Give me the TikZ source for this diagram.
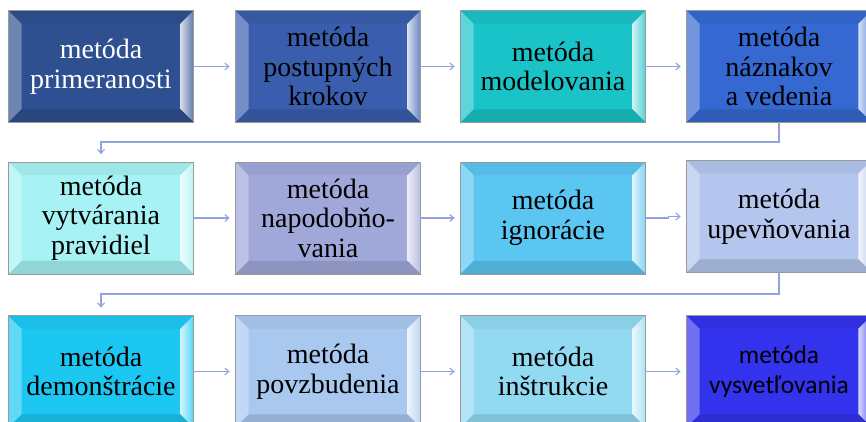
\documentclass[tikz,border=0pt]{standalone}
\usepackage{fontspec}
\setmainfont{Liberation Serif}
\newfontfamily\carlito{Carlito}
\usetikzlibrary{arrows.meta}
\definecolor{cA}{HTML}{2E5090}
\definecolor{cB}{HTML}{3A5EAD}
\definecolor{cC}{HTML}{19C3C8}
\definecolor{cD}{HTML}{3568D0}
\definecolor{cE}{HTML}{A6F2F4}
\definecolor{cF}{HTML}{A0A8DA}
\definecolor{cG}{HTML}{5BC6F2}
\definecolor{cH}{HTML}{B4C6EE}
\definecolor{cI}{HTML}{1CC8F2}
\definecolor{cJ}{HTML}{A9C8F0}
\definecolor{cK}{HTML}{92DAF2}
\definecolor{cL}{HTML}{3333EE}
\definecolor{connc}{HTML}{8FA5DA}
\tikzset{
  boxshape/.style={minimum width=184pt, minimum height=111pt, inner sep=0pt, draw=black!40, line width=0.8pt},
  lbl/.style={align=center, inner sep=0pt, font=\fontsize{28}{29.5}\selectfont},
  sanslbl/.style={font=\carlito\fontsize{25.5}{30}\selectfont},
  conn/.style={draw=connc, line width=1.1pt, -{Straight Barb[length=4pt,width=7pt]}},
}
\newcommand{\bvbox}[7][]{%
  \node[boxshape, fill=#5] (#2) at (#3,#4) {};
  \fill[#5!70!white] (#2.north west) -- (#2.south west) -- ([shift={(13pt,13pt)}]#2.south west) -- ([shift={(13pt,-13pt)}]#2.north west) -- cycle;
  \fill[#5!95!black] (#2.north west) -- (#2.north east) -- ([shift={(-13pt,-13pt)}]#2.north east) -- ([shift={(13pt,-13pt)}]#2.north west) -- cycle;
  \shade[left color=#5!20!white, right color=#5!75!white] (#2.north east) -- (#2.south east) -- ([shift={(-13pt,13pt)}]#2.south east) -- ([shift={(-13pt,-13pt)}]#2.north east) -- cycle;
  \fill[#5!88!black] (#2.south west) -- (#2.south east) -- ([shift={(-13pt,13pt)}]#2.south east) -- ([shift={(13pt,13pt)}]#2.south west) -- cycle;
  \draw[black!40, line width=0.8pt] (#2.north west) rectangle (#2.south east);
  \node[lbl, text=#6, #1] (#2t) at (#2.center) {#7};
}
\begin{document}
\begin{tikzpicture}[x=1pt, y=-1pt]
\useasboundingbox (0,0) rectangle (866,422);
\fill[white] (0,0) rectangle (866,422);
% row 1
\bvbox{a1}{101}{66.5}{cA}{white}{metóda\\primeranosti}
\bvbox{a2}{328}{66.5}{cB}{black}{metóda\\postupných\\krokov}
\bvbox{a3}{553}{66.5}{cC}{black}{metóda\\modelovania}
\bvbox{a4}{779}{66.5}{cD}{black}{metóda\\náznakov\\a vedenia}
% row 2
\bvbox{b1}{101}{218}{cE}{black}{metóda\\vytvárania\\pravidiel}
\bvbox{b2}{328}{218}{cF}{black}{metóda\\napodobňo-\\vania}
\bvbox{b3}{553}{218}{cG}{black}{metóda\\ignorácie}
\bvbox{b4}{779}{216.5}{cH}{black}{metóda\\upevňovania}
% row 3
\bvbox{c1}{101}{371.5}{cI}{black}{metóda\\demonštrácie}
\bvbox{c2}{328}{371.5}{cJ}{black}{metóda\\povzbudenia}
\bvbox{c3}{553}{371.5}{cK}{black}{metóda\\inštrukcie}
\bvbox[sanslbl]{c4}{779}{371.5}{cL}{black}{metóda\\vysvetľovania}
% connectors
\coordinate (j1) at (0,142);
\coordinate (j2) at (0,294);
\draw[conn, shorten >=6pt] (a1.east) -- (a2.west);
\draw[conn, shorten >=6pt] (a2.east) -- (a3.west);
\draw[conn, shorten >=6pt] (a3.east) -- (a4.west);
\draw[conn, shorten >=8pt] (a4.south) -- (a4.south |- j1) -- (b1.north |- j1) -- (b1.north);
\draw[conn, shorten >=6pt] (b1.east) -- (b2.west);
\draw[conn, shorten >=6pt] (b2.east) -- (b3.west);
\draw[conn, shorten >=6pt] (b3.east) -- ++(23,0) |- (b4.west);
\draw[conn, shorten >=8pt] (b4.south) -- (b4.south |- j2) -- (c1.north |- j2) -- (c1.north);
\draw[conn, shorten >=6pt] (c1.east) -- (c2.west);
\draw[conn, shorten >=6pt] (c2.east) -- (c3.west);
\draw[conn, shorten >=6pt] (c3.east) -- (c4.west);
\end{tikzpicture}
\end{document}
